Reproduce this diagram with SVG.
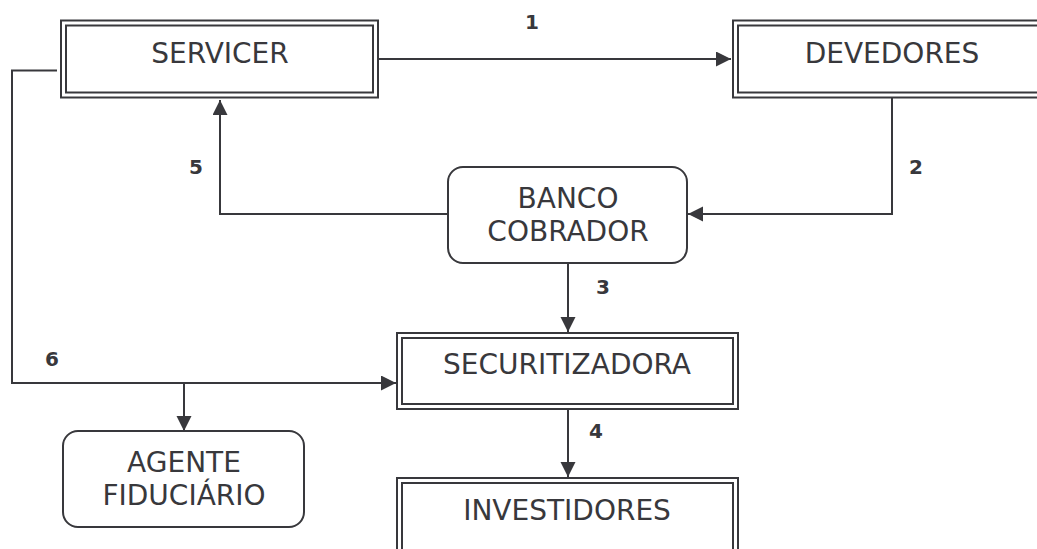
<svg xmlns="http://www.w3.org/2000/svg" width="1037" height="549" viewBox="0 0 1037 549">
<style>
.box{fill:#fff;stroke:#38383c;stroke-width:2}
.in{fill:none;stroke:#38383c;stroke-width:2}
.t{font-family:"DejaVu Sans",Verdana,sans-serif;font-size:28px;fill:#38383c;text-anchor:middle}
.n{font-family:"DejaVu Sans",Verdana,sans-serif;font-size:20px;font-weight:bold;fill:#38383c;text-anchor:middle}
.c{fill:none;stroke:#38383c;stroke-width:2}
</style>
<defs>
<marker id="ah" markerUnits="userSpaceOnUse" markerWidth="16" markerHeight="16" refX="15" refY="7.5" orient="auto">
<path d="M0,0 L15,7.5 L0,15 z" fill="#38383c"/>
</marker>
</defs>
<rect width="1037" height="549" fill="#fff"/>
<g id="connectors">
<path class="c" d="M379,59 H731" marker-end="url(#ah)"/>
<path class="c" d="M892,98 V214 H688" marker-end="url(#ah)"/>
<path class="c" d="M448,214 H220 V100" marker-end="url(#ah)"/>
<path class="c" d="M568,263 V332" marker-end="url(#ah)"/>
<path class="c" d="M568,410 V477" marker-end="url(#ah)"/>
<path class="c" d="M57,70.5 H12 V383 H396" marker-end="url(#ah)"/>
<path class="c" d="M184,383 V431" marker-end="url(#ah)"/>
<text class="n" x="532" y="29">1</text>
<text class="n" x="916" y="174">2</text>
<text class="n" x="603" y="294">3</text>
<text class="n" x="596" y="438">4</text>
<text class="n" x="196" y="174">5</text>
<text class="n" x="52" y="366">6</text>
</g>
<g id="servicer">
<rect class="box" x="61" y="20.5" width="317" height="77"/>
<rect class="in" x="66" y="25.5" width="307" height="67"/>
<text class="t" x="220" y="63">SERVICER</text>
</g>
<g id="devedores">
<rect class="box" x="733" y="20.5" width="320" height="77"/>
<rect class="in" x="738" y="25.5" width="310" height="67"/>
<text class="t" x="892" y="63">DEVEDORES</text>
</g>
<g id="banco">
<rect class="box" x="448" y="167" width="239" height="96" rx="15"/>
<text class="t" x="568" y="208">BANCO</text>
<text class="t" x="568" y="241">COBRADOR</text>
</g>
<g id="securitizadora">
<rect class="box" x="397" y="333" width="341" height="76"/>
<rect class="in" x="402" y="338" width="331" height="66"/>
<text class="t" x="567" y="374">SECURITIZADORA</text>
</g>
<g id="investidores">
<rect class="box" x="397" y="478" width="341" height="90"/>
<rect class="in" x="402" y="483" width="331" height="80"/>
<text class="t" x="567" y="520">INVESTIDORES</text>
</g>
<g id="agente">
<rect class="box" x="63" y="431" width="241" height="96" rx="15"/>
<text class="t" x="184" y="472">AGENTE</text>
<text class="t" x="184" y="505">FIDUCIÁRIO</text>
</g>
</svg>
